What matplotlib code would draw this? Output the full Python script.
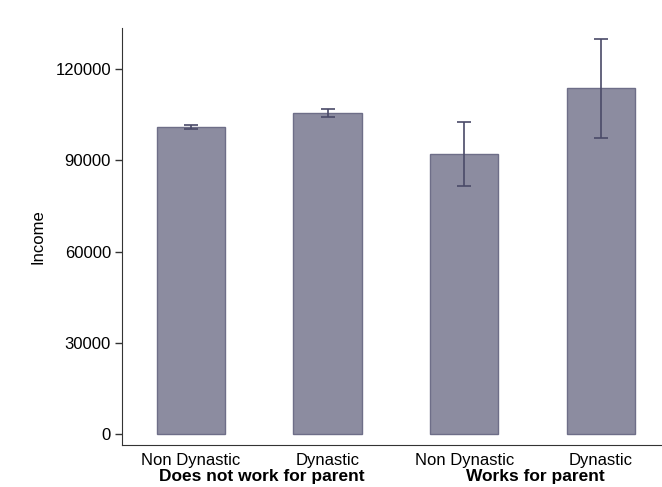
import matplotlib
matplotlib.use("Agg")
import matplotlib.pyplot as plt
from matplotlib.transforms import blended_transform_factory

plt.rcParams['font.family'] = ['Liberation Sans', 'DejaVu Sans']

categories = ["Non Dynastic", "Dynastic", "Non Dynastic", "Dynastic"]
groups = ["Does not work for parent", "Works for parent"]
income = [101000, 105500, 92000, 113700]
err_low = [100400, 104200, 81600, 97400]
err_high = [101600, 106800, 102600, 130000]

fig = plt.figure(figsize=(6.62, 4.87), dpi=100)
ax = fig.add_axes([0.1843, 0.0862, 0.8142, 0.8563])

x = [1, 2, 3, 4]
ax.bar(x, income, width=0.5, color="#8c8ca0", edgecolor="#6e6e88", linewidth=1.0, zorder=2)
yerr = [[v - lo for v, lo in zip(income, err_low)], [hi - v for v, hi in zip(income, err_high)]]
ax.errorbar(x, income, yerr=yerr, fmt="none", ecolor="#4a4a68", elinewidth=1.2,
            capsize=5, capthick=1.2, zorder=3)

ax.set_xlim(0.496, 4.44)
ax.set_ylim(-3620, 133500)
ax.set_yticks([0, 30000, 60000, 90000, 120000])
ax.set_yticklabels(["0", "30000", "60000", "90000", "120000"], fontsize=12)
ax.tick_params(axis='y', length=5, width=1, color="#333333", pad=3)
ax.set_xticks([])
ax.spines['top'].set_visible(False)
ax.spines['right'].set_visible(False)
ax.spines['left'].set_color("#333333")
ax.spines['bottom'].set_color("#333333")
ax.set_ylabel("Income", fontsize=12, labelpad=7)

trans = blended_transform_factory(ax.transData, fig.transFigure)
for xi, lab in zip(x, categories):
    ax.text(xi, 1 - 460 / 487, lab, transform=trans, ha='center', va='center', fontsize=12)
for i, g in enumerate(groups):
    ax.text((x[2 * i] + x[2 * i + 1]) / 2 + 0.02, 1 - 477 / 487, g, transform=trans,
            ha='center', va='center', fontsize=12.5, fontweight='bold')

fig.savefig("out.png", dpi=100)
